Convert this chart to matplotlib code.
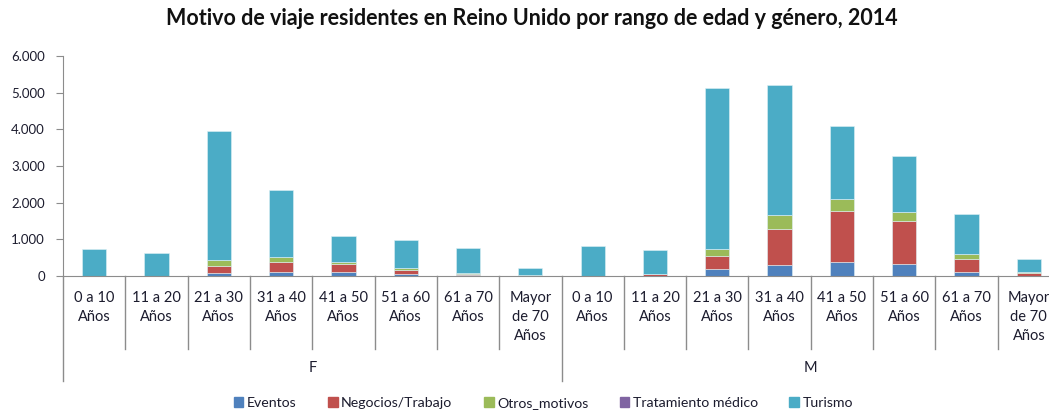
import matplotlib
matplotlib.use("Agg")
import matplotlib.pyplot as plt
import numpy as np
from matplotlib.ticker import FuncFormatter
from matplotlib.patches import Patch

plt.rcParams['font.family'] = ['Lato', 'DejaVu Sans']

# datos (F luego M)
grupos = ['F', 'M']
edades = ['0 a 10\nAños', '11 a 20\nAños', '21 a 30\nAños', '31 a 40\nAños',
          '41 a 50\nAños', '51 a 60\nAños', '61 a 70\nAños', 'Mayor\nde 70\nAños']

eventos = [0, 0, 90, 100, 100, 55, 15, 5,
           0, 0, 190, 300, 390, 320, 100, 10]
negocios = [0, 10, 190, 290, 218, 117, 30, 5,
            0, 50, 363, 990, 1380, 1180, 354, 82]
otros = [0, 0, 155, 136, 72, 55, 35, 5,
         0, 0, 182, 373, 327, 253, 136, 27]
tratamiento = [0, 0, 5, 5, 3, 3, 2, 1,
               0, 0, 5, 5, 5, 4, 3, 1]
turismo = [740, 620, 3515, 1810, 697, 742, 673, 210,
           826, 658, 4374, 3536, 1994, 1513, 1105, 335]

series = [('Eventos', eventos, '#4F81BD'),
          ('Negocios/Trabajo', negocios, '#C0504D'),
          ('Otros_motivos', otros, '#9BBB59'),
          ('Tratamiento médico', tratamiento, '#8064A2'),
          ('Turismo', turismo, '#4BACC6')]

txt = '#1c1c2e'
gris = '#8c8c8c'

fig = plt.figure(figsize=(10.49, 4.12), dpi=100)
ax = fig.add_axes([63 / 1049, 136 / 412, 997 / 1049, 220 / 412])

n = len(eventos)
x = np.arange(n)
bottom = np.zeros(n)
for nombre, vals, color in series:
    ax.bar(x, vals, 0.39, bottom=bottom, color=color, label=nombre,
           edgecolor='#dff0f5', linewidth=0.4)
    bottom += np.array(vals)

ax.set_xlim(-0.5, n - 0.5)
ax.set_ylim(0, 6000)
ax.set_yticks(np.arange(0, 6001, 1000))
ax.yaxis.set_major_formatter(FuncFormatter(lambda v, p: f'{int(v):,}'.replace(',', '.')))
ax.tick_params(axis='y', direction='out', length=5, color=gris, labelsize=9.5,
               labelcolor=txt, pad=8)
ax.set_xticks([])
for s in ['top', 'right']:
    ax.spines[s].set_visible(False)
ax.spines['left'].set_color(gris)
ax.spines['bottom'].set_color(gris)

# eje de categorias multinivel
tr = ax.get_xaxis_transform()
for i in range(n):
    ax.text(i, -0.07, edades[i % 8], transform=tr, ha='center', va='top',
            fontsize=10.5, color=txt, linespacing=1.45)
    if i > 0 and i != 8:
        ax.plot([i - 0.5, i - 0.5], [0, -0.332], transform=tr, color=gris,
                lw=1, clip_on=False)
for xx in [-0.5, 7.5]:
    ax.plot([xx, xx], [0, -0.477], transform=tr, color=gris, lw=1, clip_on=False)
for g, grupo in enumerate(grupos):
    ax.text(g * 8 + 3.5, -0.42, grupo, transform=tr, ha='center', va='center',
            fontsize=10.5, color=txt)

fig.text(0.507, 0.955, 'Motivo de viaje residentes en Reino Unido por rango de edad y género, 2014',
         ha='center', va='center', fontsize=15.5, fontweight='bold', color='#111111')

handles = [Patch(color=c, label=nm) for nm, v, c in series]
fig.legend(handles=handles, loc='center', bbox_to_anchor=(0.518, 0.022), ncol=5,
           frameon=False, fontsize=10.2, handlelength=0.7, handleheight=0.7,
           handletextpad=0.25, columnspacing=2.2, labelcolor=txt)

fig.savefig('out.png', dpi=100)
